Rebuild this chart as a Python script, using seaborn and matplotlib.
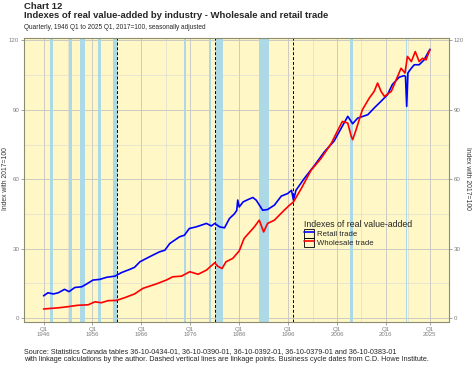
import pandas as pd
import matplotlib
matplotlib.use("Agg")
import matplotlib.pyplot as plt
import seaborn as sns
from matplotlib.legend_handler import HandlerLine2D
from matplotlib.patches import Rectangle

# === Data (decimal year, index 2017=100) ===
retail_years = [1946.0, 1946.9, 1948.0, 1949.0, 1950.3, 1951.2, 1952.4, 1953.8, 1954.8, 1956.1,
                1957.5, 1958.9, 1960.6, 1961.9, 1963.6, 1964.6, 1965.7, 1967.7, 1969.7, 1970.8,
                1971.8, 1973.8, 1974.8, 1975.8, 1977.2, 1978.2, 1979.3, 1980.3, 1981.0, 1982.0,
                1983.0, 1984.0, 1985.0, 1985.5, 1985.7, 1986.0, 1986.8, 1987.8, 1988.8, 1989.5,
                1990.8, 1991.8, 1993.2, 1994.6, 1995.9, 1996.7, 1997.1, 1997.6, 1999.3, 2001.4,
                2003.4, 2005.4, 2006.5, 2008.2, 2009.2, 2010.2, 2012.3, 2013.6, 2015.0, 2016.3,
                2017.3, 2018.7, 2019.7, 2020.0, 2020.25, 2020.5, 2021.2, 2021.8, 2022.8, 2023.8,
                2025.0]
retail_values = [9.6, 10.9, 10.4, 10.9, 12.4, 11.4, 13.2, 13.5, 14.7, 16.4,
                 16.7, 17.6, 18.1, 19.6, 21.0, 21.9, 24.3, 26.5, 28.6, 29.3,
                 32.2, 35.1, 35.8, 38.7, 39.4, 40.1, 40.9, 39.8, 40.9, 39.4,
                 39.0, 43.0, 45.0, 46.5, 51.0, 48.0, 50.2, 51.2, 52.1, 50.9,
                 46.6, 46.9, 48.8, 52.7, 53.8, 55.2, 50.9, 55.2, 60.3, 66.0,
                 71.8, 76.5, 80.7, 87.2, 84.0, 86.4, 87.9, 90.8, 93.7, 96.5,
                 100.9, 104.1, 104.8, 104.5, 91.5, 106.0, 108.0, 109.5, 109.5, 111.6,
                 116.2]

wholesale_years = [1946.0, 1949.0, 1951.0, 1953.0, 1955.1, 1956.5, 1957.8, 1959.2, 1960.9, 1962.6,
                   1964.6, 1966.3, 1969.0, 1971.1, 1972.4, 1974.2, 1975.9, 1977.6, 1979.3, 1981.0,
                   1981.6, 1982.5, 1983.3, 1984.7, 1986.0, 1987.0, 1989.1, 1990.1, 1991.0, 1991.8,
                   1993.2, 1995.2, 1996.3, 1997.1, 1998.7, 2000.7, 2002.7, 2004.8, 2006.0, 2007.1,
                   2008.2, 2008.9, 2009.2, 2009.9, 2011.2, 2012.6, 2013.6, 2014.3, 2015.0, 2015.7,
                   2017.1, 2018.1, 2019.1, 2019.9, 2020.4, 2021.2, 2022.0, 2022.8, 2023.5, 2024.2,
                   2025.0]
wholesale_values = [3.9, 4.4, 4.9, 5.5, 5.7, 7.0, 6.6, 7.5, 7.6, 8.8,
                    10.4, 12.8, 14.7, 16.4, 17.8, 18.1, 20.0, 18.9, 20.7, 23.9,
                    22.4, 21.4, 24.3, 25.8, 29.0, 34.4, 39.4, 42.3, 37.2, 40.9,
                    42.3, 46.6, 48.8, 50.2, 56.0, 63.9, 68.9, 75.4, 80.5, 85.0,
                    84.3, 78.6, 77.1, 81.4, 90.1, 95.1, 98.0, 101.6, 98.0, 95.8,
                    98.0, 103.0, 108.0, 105.9, 113.1, 110.9, 115.2, 110.9, 112.3, 111.6,
                    116.0]

# Business cycle (recession) periods and linkage points
recession_start = [1947.4, 1951.2, 1953.4, 1957.1, 1960.2, 1974.8, 1979.8, 1981.3, 1990.15, 2008.65, 2020.1]
recession_end = [1948.0, 1951.8, 1954.4, 1957.8, 1961.0, 1975.2, 1980.2, 1982.65, 1992.05, 2009.2, 2020.4]
linkage_points = [1961.0, 1981.0, 1997.0]

tick_years = [1946, 1956, 1966, 1976, 1986, 1996, 2006, 2016, 2025]
tick_labels = ["Q1\n%d" % y for y in tick_years]

df = pd.concat([
    pd.DataFrame({"year": retail_years, "value": retail_values, "series": "Retail trade"}),
    pd.DataFrame({"year": wholesale_years, "value": wholesale_values, "series": "Wholesale trade"}),
])

# === Plot setup ===
sns.set_theme(style="white")
plt.rcParams["font.family"] = ["Liberation Sans", "DejaVu Sans"]

fig = plt.figure(figsize=(4.74, 3.66), dpi=100)
ax = fig.add_axes([24 / 474, 1 - 321.7 / 366, 425 / 474, 284 / 366])
ax.set_facecolor("#FFF7C6")

for s, e in zip(recession_start, recession_end):
    ax.axvspan(s, e, color="#ADD8E6", lw=0, zorder=1)
for x in linkage_points:
    ax.axvline(x, color="black", ls=(0, (3, 2)), lw=0.7, zorder=2)

sns.lineplot(data=df, x="year", y="value", hue="series", sort=False,
             palette={"Retail trade": "#0000FF", "Wholesale trade": "#FF0000"},
             lw=1.2, ax=ax, zorder=3)

ax.set_xlim(1942.0, 2028.9)
ax.set_ylim(-1.6, 121.2)
ax.set_xticks(tick_years)
ax.set_xticklabels(tick_labels)
ax.set_xticks([1951, 1961, 1971, 1981, 1991, 2001, 2011, 2020.5], minor=True)
ax.set_yticks([0, 30, 60, 90, 120])
ax.set_yticks([15, 45, 75, 105], minor=True)
ax.grid(True, which="major", color="#C4C4C4", lw=0.6, zorder=0)
ax.grid(True, which="minor", color="#D6D6D6", lw=0.4, zorder=0)
ax.set_axisbelow(True)
ax.tick_params(axis="both", which="major", labelsize=4.4, labelcolor="#7F7F7F",
               length=2, width=0.5, color="#7F7F7F", pad=1.5,
               left=True, right=True, bottom=True, labelright=True)
ax.tick_params(axis="both", which="minor", length=0)
ax.set_xlabel("")
ax.set_ylabel("")
for sp in ax.spines.values():
    sp.set_color("#8C8C6E")
    sp.set_linewidth(0.8)

fig.text(5.7 / 474, 0.512, "Index with 2017=100", rotation=90, ha="center", va="center",
         fontsize=4.9, color="#333333")
fig.text(468 / 474, 0.512, "Index with 2017=100", rotation=270, ha="center", va="center",
         fontsize=4.9, color="#333333")


class BoxLine(HandlerLine2D):
    def create_artists(self, legend, orig_handle, xdescent, ydescent, width, height, fontsize, trans):
        arts = super().create_artists(legend, orig_handle, xdescent, ydescent, width, height, fontsize, trans)
        box = Rectangle((-xdescent, -ydescent), width, height, fill=False, edgecolor="black",
                        lw=0.6, transform=trans)
        return [box] + list(arts)


handles, labels = ax.get_legend_handles_labels()
leg = ax.legend(handles, labels, title="Indexes of real value-added", frameon=False,
                loc="upper left", bbox_to_anchor=(300 / 474, 1 - 216 / 366),
                bbox_transform=fig.transFigure, fontsize=5.6, title_fontsize=6.3,
                handlelength=1.3, handleheight=1.35, labelspacing=0.0, handletextpad=0.35,
                borderpad=0, alignment="left", handler_map={type(handles[0]): BoxLine()})

# === Titles and notes ===
fig.text(24 / 474, 1 - 9.3 / 366, "Chart 12", fontsize=6.8, fontweight="bold", va="baseline")
fig.text(24 / 474, 1 - 18.3 / 366, "Indexes of real value-added by industry - Wholesale and retail trade",
         fontsize=6.8, fontweight="bold", va="baseline")
fig.text(24 / 474, 1 - 29.3 / 366, "Quarterly, 1946 Q1 to 2025 Q1, 2017=100, seasonally adjusted",
         fontsize=4.7, va="baseline")
fig.text(24 / 474, 1 - 353.5 / 366,
         "Source: Statistics Canada tables 36-10-0434-01, 36-10-0390-01, 36-10-0392-01, 36-10-0379-01 and 36-10-0383-01",
         fontsize=5.2, va="baseline")
fig.text(24 / 474, 1 - 361.3 / 366,
         "with linkage calculations by the author. Dashed vertical lines are linkage points. Business cycle dates from C.D. Howe Institute.",
         fontsize=5.2, va="baseline")

fig.savefig("out.png", dpi=100)
plt.close(fig)
